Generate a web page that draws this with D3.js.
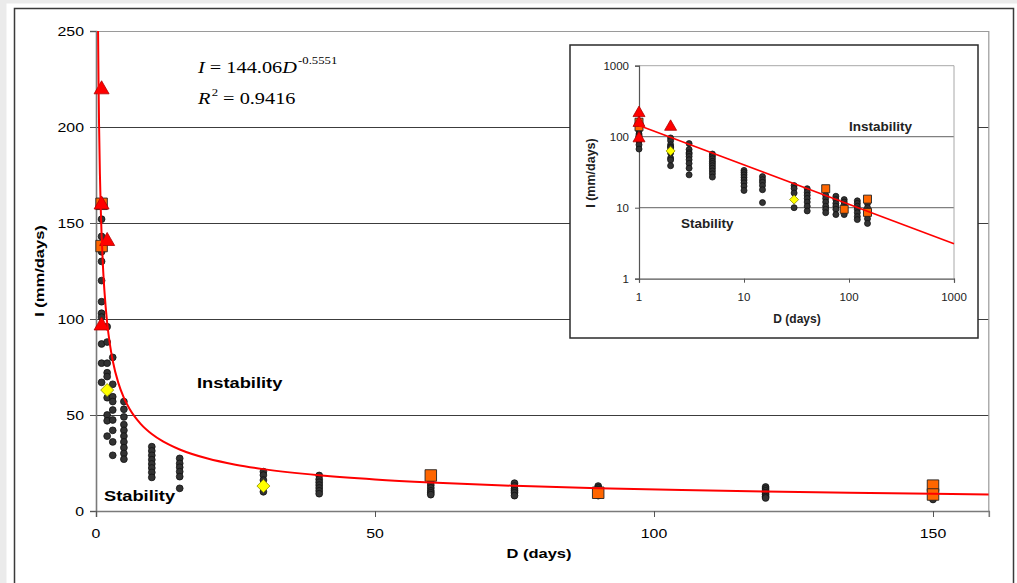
<!DOCTYPE html>
<html>
<head>
<meta charset="utf-8">
<script src="https://cdn.jsdelivr.net/npm/d3@7"></script>
<style>
html,body{margin:0;padding:0;background:#ebebeb;}
svg{display:block;}
text{font-family:"Liberation Sans",Arial,sans-serif;}
</style>
</head>
<body>
<svg id="chart" width="1017" height="583"></svg>
<script>
// ---------------- data ----------------
const dotDays = [1, 2, 3, 5, 10, 15, 30, 40, 60, 75, 90, 120, 150];
const dotValues = [
  [152, 143, 135, 130, 120, 109, 103, 101, 87, 77, 67],
  [96, 88, 77, 72, 70, 59, 50, 47, 39],
  [80, 66, 59.5, 57, 52.6, 47.4, 42, 36, 29],
  [57, 53, 49, 45, 42, 39, 36, 33, 30, 27],
  [33.5, 31.3, 29, 26.7, 24.5, 22.4, 20.1, 17.5],
  [27.4, 24.8, 22.8, 20.5, 17.9, 11.8],
  [20.5, 18.7, 16.1, 10],
  [18.5, 16.5, 15, 13.5, 12, 10.5, 9],
  [15, 13.5, 12, 10.5, 9.5, 8.5],
  [14.5, 13, 11.5, 10.5, 9.5, 8],
  [13, 12, 11, 10, 9, 8],
  [12.5, 11.5, 10.5, 9.5, 8.5, 7.5, 6.8],
  [11.5, 10, 9, 8, 7, 6]
];
const triangleDays = [1, 1, 1, 2];
const triangleValues = [220, 160, 97, 141];
const squareDays = [1, 1, 60, 90, 150, 150];
const squareValues = [160, 138, 18.5, 9.5, 13.2, 8.6];
const diamondDays = [2, 30];
const diamondValues = [63, 13];

// fitted power trend shown on the chart: I = a * D^b
const trendA = 144.06;
const trendB = -0.5551;
const trendR2 = "0.9416";
const mainTrendDays = [0.37, 0.45, 0.55, 0.7, 0.85, 1, 1.25, 1.5, 2, 2.5, 3, 4, 5, 6, 8, 10, 12, 15, 20, 25, 30, 40, 50, 60, 75, 90, 105, 120, 135, 150, 160];
const insetTrendDays = [1, 1000];

const mainXTicks = [0, 50, 100, 150];
const mainYTicks = [0, 50, 100, 150, 200, 250];
const insetTicks = [1, 10, 100, 1000];

// flatten
const dots = [];
dotDays.forEach((d, i) => dotValues[i].forEach(v => dots.push({d, v})));
const tris = triangleDays.map((d, i) => ({d, v: triangleValues[i]}));
const sqs = squareDays.map((d, i) => ({d, v: squareValues[i]}));
const dias = diamondDays.map((d, i) => ({d, v: diamondValues[i]}));

const svg = d3.select("#chart");

// ---------------- frame ----------------
svg.append("rect").attr("x", 0).attr("y", 0).attr("width", 1017).attr("height", 583).attr("fill", "#ebebeb");
svg.append("rect").attr("x", 6.5).attr("y", 3.5).attr("width", 1011).attr("height", 590).attr("fill", "#fff");
svg.append("rect").attr("x", 14.5).attr("y", 8.5).attr("width", 999).attr("height", 600)
  .attr("fill", "#fff").attr("stroke", "#3a3a3a").attr("stroke-width", 1.5);

// stretched text helper
function stext(g, x, y, str, o = {}) {
  const sx = o.sx || 1;
  const t = g.append("text")
    .attr("transform", `translate(${x},${y})${o.rot ? ` rotate(${o.rot})` : ""} scale(${sx},1)`)
    .attr("font-size", o.size || 12)
    .attr("font-weight", o.weight || "normal")
    .attr("text-anchor", o.anchor || "start")
    .attr("fill", o.fill || "#000")
    .text(str);
  if (o.family) t.style("font-family", o.family);
  return t;
}

// ---------------- main chart ----------------
const M = {left: 96, right: 988.8, top: 31, bottom: 511};
const x = d3.scaleLinear().domain([0, 160]).range([M.left, M.right]);
const y = d3.scaleLinear().domain([0, 250]).range([M.bottom, M.top]);
const main = svg.append("g");
const SX = 1.27;

main.append("defs").append("clipPath").attr("id", "mainClip")
  .append("rect").attr("x", M.left).attr("y", M.top).attr("width", M.right - M.left).attr("height", M.bottom - M.top);

// gridlines
main.append("g").selectAll("line").data(mainYTicks.filter(t => t > 0 && t < 250)).join("line")
  .attr("x1", M.left).attr("x2", M.right).attr("y1", d => Math.round(y(d)) + 0.5).attr("y2", d => Math.round(y(d)) + 0.5)
  .attr("stroke", "#3c3c3c").attr("stroke-width", 1);
// plot border top/right
main.append("path")
  .attr("d", `M${M.left},${M.top + 0.5}H${M.right}V${M.bottom}`)
  .attr("fill", "none").attr("stroke", "#9a9a9a").attr("stroke-width", 1.2);

// axes
const yAxis = d3.axisLeft(y).tickValues(mainYTicks).tickSize(6).tickFormat("");
const xAxis = d3.axisBottom(x).tickValues(mainXTicks).tickSize(6).tickFormat("");
const gy = main.append("g").attr("transform", `translate(${M.left},0)`).call(yAxis);
const gx = main.append("g").attr("transform", `translate(0,${M.bottom})`).call(xAxis);
[gy, gx].forEach(g => {
  g.select(".domain").attr("stroke", "#7a7a7a").attr("stroke-width", 1.6);
  g.selectAll(".tick line").attr("stroke", "#555");
});
mainYTicks.forEach(t => stext(main, 84, y(t) + 4.5, String(t), {size: 12.5, anchor: "end", sx: SX}));
mainXTicks.forEach(t => stext(main, x(t), 538, String(t), {size: 12.5, anchor: "middle", sx: SX}));
stext(main, 539, 558, "D (days)", {size: 13, weight: "bold", anchor: "middle", sx: SX});
stext(main, 44, 271, "I (mm/days)", {size: 13, weight: "bold", anchor: "middle", rot: -90, sx: SX});

// region labels
stext(main, 197, 388, "Instability", {size: 15.5, weight: "bold", sx: 1.18});
stext(main, 104, 501, "Stability", {size: 15.5, weight: "bold", sx: 1.18});

// equation
const serif = '"Liberation Serif","Times New Roman",serif';
const eq1 = main.append("text").attr("transform", `translate(198,73) scale(${SX},1)`)
  .attr("font-size", 16).style("font-family", serif);
eq1.append("tspan").attr("font-style", "italic").text("I");
eq1.append("tspan").text(` = ${trendA}`);
eq1.append("tspan").attr("font-style", "italic").text("D");
eq1.append("tspan").attr("font-size", 10).attr("dy", -9).attr("dx", 1).text(String(trendB));
const eq2 = main.append("text").attr("transform", `translate(198,104) scale(${SX},1)`)
  .attr("font-size", 16).style("font-family", serif);
eq2.append("tspan").attr("font-style", "italic").text("R");
eq2.append("tspan").attr("font-size", 10).attr("dy", -8).attr("dx", 1).text("2");
eq2.append("tspan").attr("dy", 8).text(` = ${trendR2}`);

// marker shapes
function triPath(w) { const h = w * 0.87; return `M0,${-h * 0.6}L${w / 2},${h * 0.4}L${-w / 2},${h * 0.4}Z`; }
function sqPath(s) { const a = s / 2; return `M${-a},${-a}H${a}V${a}H${-a}Z`; }
function diaPath(s) { const a = s / 2; return `M0,${-a}L${a},0L0,${a}L${-a},0Z`; }

function drawMarkers(g, xs, ys, sz) {
  g.append("g").selectAll("circle").data(dots).join("circle")
    .attr("cx", d => xs(d.d)).attr("cy", d => ys(d.v)).attr("r", sz.r)
    .attr("fill", "#333").attr("stroke", "#111").attr("stroke-width", 0.8);
  g.append("g").selectAll("path").data(dias).join("path")
    .attr("d", diaPath(sz.dia)).attr("transform", d => `translate(${xs(d.d)},${ys(d.v)})`)
    .attr("fill", "#ffff00").attr("stroke", "#8a8a00").attr("stroke-width", 0.8);
  g.append("g").selectAll("path").data(sqs).join("path")
    .attr("d", sqPath(sz.sq)).attr("transform", d => `translate(${xs(d.d)},${ys(d.v)})`)
    .attr("fill", "#ff6600").attr("stroke", "#222").attr("stroke-width", 0.9);
  g.append("g").selectAll("path").data(tris).join("path")
    .attr("d", triPath(sz.tri)).attr("transform", d => `translate(${xs(d.d)},${ys(d.v)})`)
    .attr("fill", "#ff0000").attr("stroke", "#b00000").attr("stroke-width", 0.8);
}
drawMarkers(main, x, y, {r: 3.4, dia: 13, sq: 11.5, tri: 15});

const mainLine = d3.line().x(d => x(d)).y(d => y(trendA * Math.pow(d, trendB)));
main.append("path").datum(mainTrendDays).attr("clip-path", "url(#mainClip)")
  .attr("d", mainLine.curve(d3.curveMonotoneX)).attr("fill", "none").attr("stroke", "#ff0000").attr("stroke-width", 2);

// ---------------- inset ----------------
const inset = svg.append("g");
inset.append("rect").attr("x", 570).attr("y", 45).attr("width", 408).attr("height", 293)
  .attr("fill", "#fff").attr("stroke", "#2a2a2a").attr("stroke-width", 1.5);
const I = {left: 639, right: 954, top: 65.7, bottom: 278.7};
const lx = d3.scaleLog().domain([1, 1000]).range([I.left, I.right]);
const ly = d3.scaleLog().domain([1, 1000]).range([I.bottom, I.top]);

inset.append("g").selectAll("line").data([10, 100]).join("line")
  .attr("x1", I.left).attr("x2", I.right).attr("y1", d => ly(d)).attr("y2", d => ly(d))
  .attr("stroke", "#808080").attr("stroke-width", 1.3);
inset.append("path").attr("d", `M${I.left},${I.top}H${I.right}V${I.bottom}`)
  .attr("fill", "none").attr("stroke", "#a8a8a8").attr("stroke-width", 1);
const ily = d3.axisLeft(ly).tickValues(insetTicks).tickSize(4).tickFormat("");
const ilx = d3.axisBottom(lx).tickValues(insetTicks).tickSize(4).tickFormat("");
const giy = inset.append("g").attr("transform", `translate(${I.left},0)`).call(ily);
const gix = inset.append("g").attr("transform", `translate(0,${I.bottom})`).call(ilx);
[giy, gix].forEach(g => {
  g.select(".domain").attr("stroke", "#555").attr("stroke-width", 1.2);
  g.selectAll(".tick line").attr("stroke", "#555");
});
insetTicks.forEach(t => stext(inset, 629, ly(t) + 4, String(t), {size: 11.5, anchor: "end", fill: "#222"}));
insetTicks.forEach(t => stext(inset, lx(t), 300.5, String(t), {size: 11.5, anchor: "middle", fill: "#222"}));
stext(inset, 797, 323, "D (days)", {size: 12, weight: "bold", anchor: "middle", fill: "#222"});
stext(inset, 595, 173, "I (mm/days)", {size: 12.5, weight: "bold", anchor: "middle", rot: -90, fill: "#222"});
stext(inset, 849, 130.5, "Instability", {size: 13.5, weight: "bold", fill: "#222"});
stext(inset, 681, 228, "Stability", {size: 13.5, weight: "bold", fill: "#222"});

drawMarkers(inset, lx, ly, {r: 3, dia: 9, sq: 8, tri: 12});
inset.append("path").datum(insetTrendDays)
  .attr("d", d3.line().x(d => lx(d)).y(d => ly(trendA * Math.pow(d, trendB))))
  .attr("fill", "none").attr("stroke", "#ff0000").attr("stroke-width", 1.6);
</script>
</body>
</html>
